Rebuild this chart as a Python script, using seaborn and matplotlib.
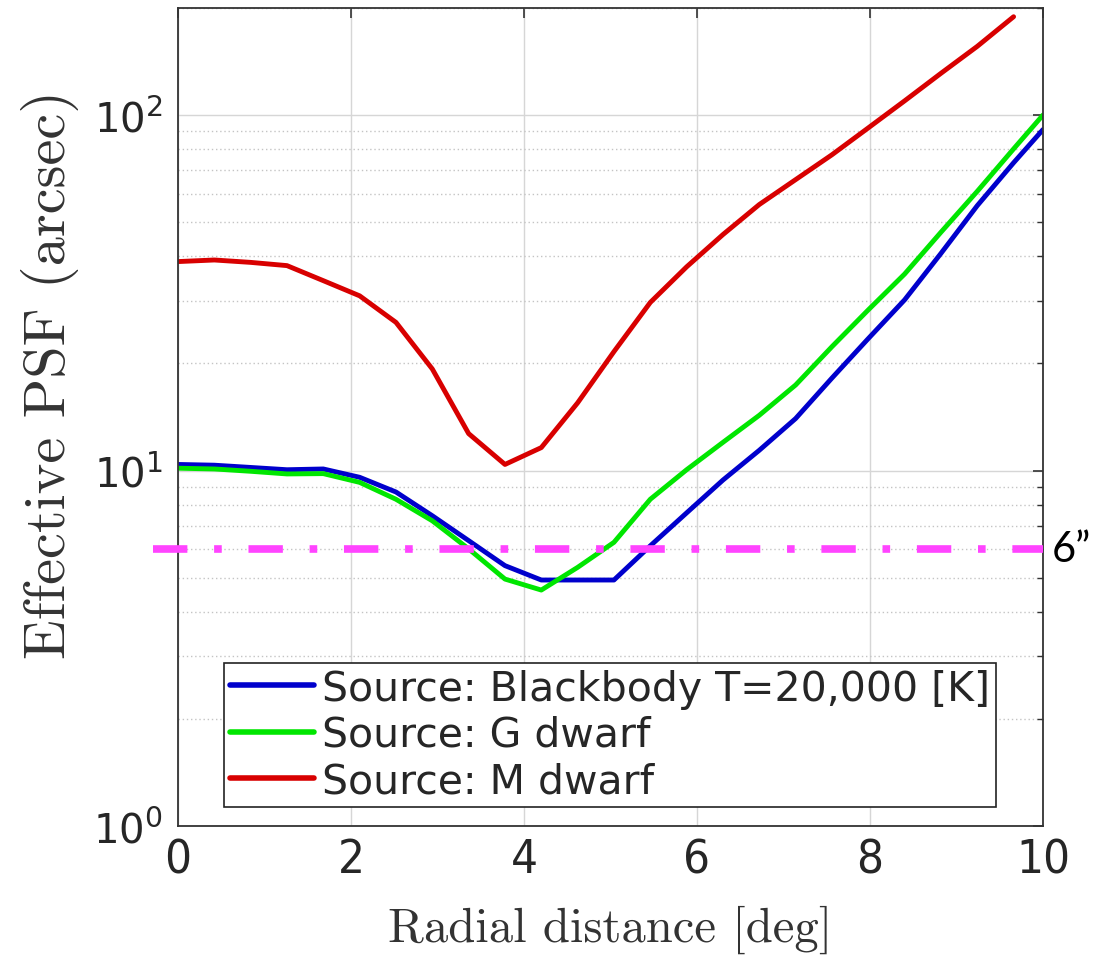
import matplotlib
matplotlib.use("Agg")
import matplotlib.pyplot as plt
import matplotlib.ticker as mticker
import seaborn as sns
import numpy as np
import pandas as pd

# radial distance samples [deg]
x_grid = [0.0, 0.42, 0.84, 1.26, 1.68, 2.10, 2.52, 2.94, 3.36, 3.78, 4.20, 4.62,
          5.04, 5.46, 5.88, 6.30, 6.72, 7.14, 7.56, 7.98, 8.40, 8.82, 9.24, 9.66, 10.0]

# effective PSF (arcsec)
psf_blackbody = [10.4, 10.35, 10.2, 10.05, 10.1, 9.57, 8.7, 7.46, 6.35, 5.4, 4.92, 4.92,
                 4.92, 6.14, 7.6, 9.4, 11.4, 14.0, 18.2, 23.5, 30.2, 40.8, 55.6, 73.4, 91.0]
psf_g_dwarf = [10.15, 10.1, 9.95, 9.78, 9.8, 9.26, 8.3, 7.22, 6.02, 4.95, 4.61, 5.34,
               6.28, 8.3, 10.05, 12.0, 14.3, 17.4, 22.3, 28.3, 35.7, 46.8, 61.0, 80.3, 100.0]
psf_m_dwarf = [38.7, 39.1, 38.5, 37.7, 34.2, 31.0, 26.1, 19.3, 12.7, 10.4, 11.6, 15.5,
               21.6, 29.7, 37.4, 46.1, 56.0, 65.8, 77.3, 92.0, 109.6, 131.0, 156.0, 189.0]

labels = ["Source: Blackbody T=20,000 [K]", "Source: G dwarf", "Source: M dwarf"]
colors = {labels[0]: "#0000cc", labels[1]: "#00e600", labels[2]: "#d80000"}
threshold = 6  # arcsec

df = pd.concat([
    pd.DataFrame({"x": x_grid, "psf": psf_blackbody, "source": labels[0]}),
    pd.DataFrame({"x": x_grid, "psf": psf_g_dwarf, "source": labels[1]}),
    pd.DataFrame({"x": x_grid[:len(psf_m_dwarf)], "psf": psf_m_dwarf, "source": labels[2]}),
], ignore_index=True)

sns.set_style("white")
fig = plt.figure(figsize=(10.94, 9.62), dpi=100)
ax = fig.add_axes([178 / 1094, 1 - 827 / 962, 865 / 1094, 818 / 962])

sns.lineplot(data=df, x="x", y="psf", hue="source", palette=colors, sort=False,
             linewidth=3.5, ax=ax, legend=False)

ax.set_yscale("log")
ax.set_xlim(0, 10)
ax.set_ylim(1, 200)

# threshold line, runs slightly past the left edge like the original
ax.plot([-0.29, 10], [threshold, threshold], color="#ff44ff", lw=5.5,
        linestyle=(0, (4.5, 3.5, 1.0, 3.5)), dash_capstyle="butt", clip_on=False, zorder=5)
ax.text(10.1, threshold, "6\u201d", fontsize=30, family="Lato", color="black",
        ha="left", va="center")

# grids like MATLAB
ax.xaxis.set_major_locator(mticker.MultipleLocator(2))
ax.yaxis.set_minor_locator(mticker.LogLocator(base=10, subs=np.arange(2, 10), numticks=20))
ax.yaxis.set_minor_formatter(mticker.NullFormatter())
ax.grid(True, which="major", color="#d6d6d6", lw=1.0, ls="-")
ax.grid(True, which="minor", axis="y", color="#c4c4c4", lw=1.0, ls=(0, (1, 2)))
ax.set_axisbelow(True)

ax.tick_params(which="both", direction="in", top=True, right=True, colors="#333333")
ax.tick_params(which="major", length=7, width=1.2)
ax.tick_params(which="minor", length=4, width=1.0)
ax.tick_params(axis="x", labelsize=34, pad=8, labelcolor="#262626")
ax.tick_params(axis="y", labelsize=29, pad=11, labelcolor="#262626")
ax.set_yticks([1, 10, 100])
ax.set_yticklabels([r"$10^{0}$", r"$10^{1}$", r"$10^{2}$"])
for lab in ax.get_xticklabels():
    lab.set_fontstretch("condensed")
for sp in ax.spines.values():
    sp.set_color("#333333")
    sp.set_linewidth(1.3)

ax.set_xlabel("Radial distance [deg]", family="cmr10", fontsize=35, color="#333333", labelpad=16)
ax.set_ylabel("Effective PSF (arcsec)", family="cmr10", fontsize=42, color="#333333", labelpad=10)
ax.yaxis.label.set_y(0.553)

handles = [plt.Line2D([], [], color=colors[l], lw=4) for l in labels]
leg = ax.legend(handles, labels, loc="lower left", bbox_to_anchor=(0.053, 0.023),
                borderaxespad=0, fancybox=False, framealpha=1, edgecolor="#222222",
                prop={"family": "DejaVu Sans", "size": 29.5},
                handlelength=2.05, handletextpad=0.2, labelspacing=0.15, borderpad=0.15)
leg.get_frame().set_linewidth(1.2)

fig.savefig("out.png", dpi=100)
